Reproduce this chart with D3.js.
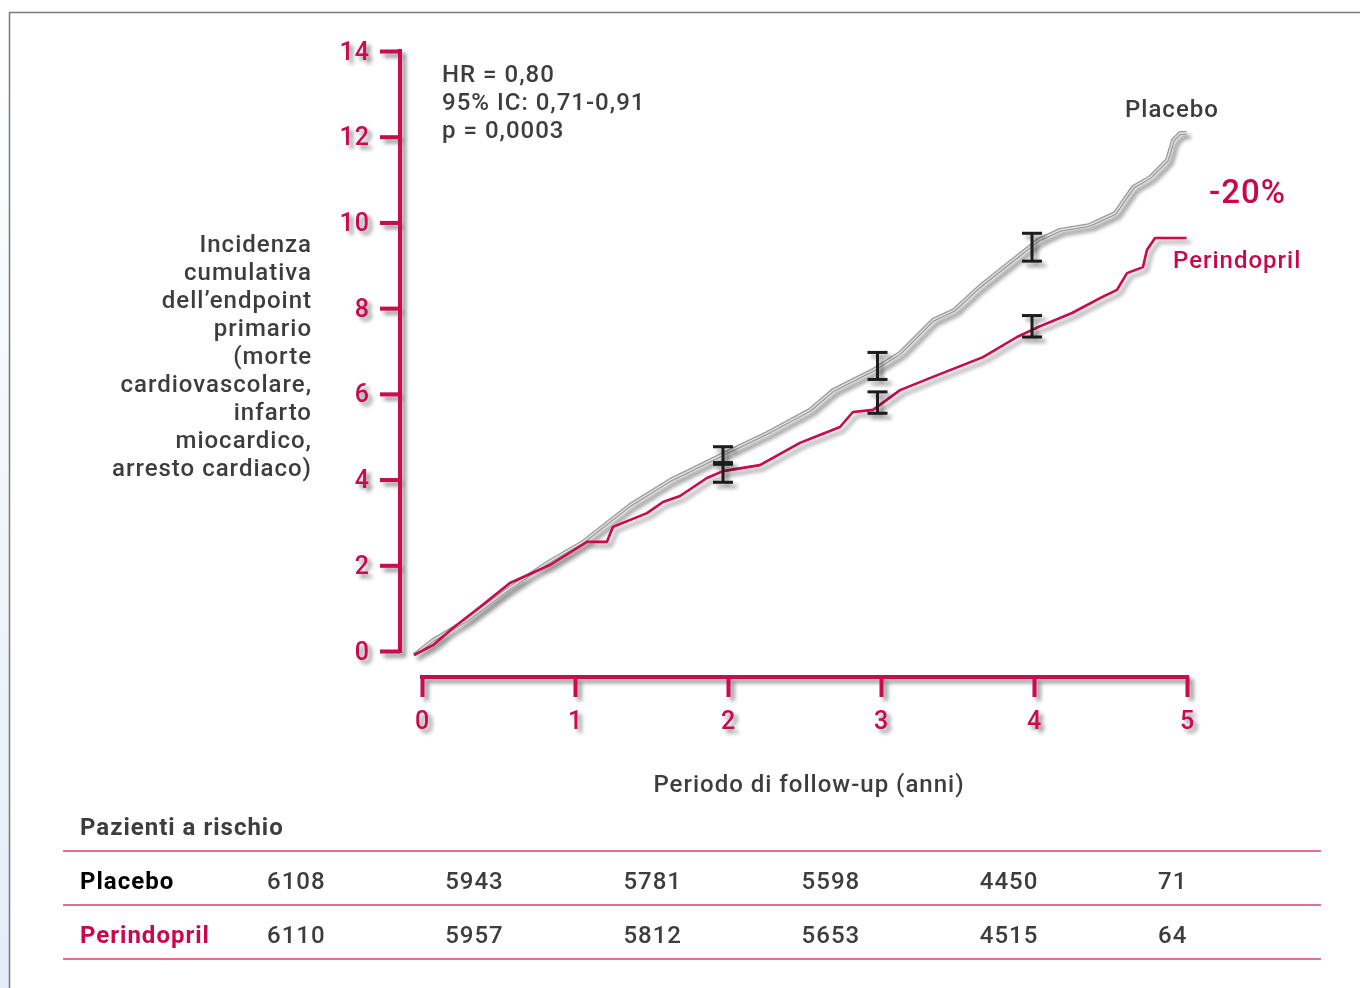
<!DOCTYPE html>
<html><head><meta charset="utf-8">
<script src="https://cdn.jsdelivr.net/npm/d3@7"></script>
<style>
html,body{margin:0;padding:0;background:#fff;}
svg{display:block;font-family:Roboto,"Open Sans",sans-serif;}
svg text{letter-spacing:1px;font-weight:500;}
</style></head>
<body>
<svg id="chart" width="1360" height="988"></svg>
<script>
// ---- data ----
const years = [0, 1, 2, 3, 4, 5];
const yTicks = [0, 2, 4, 6, 8, 10, 12, 14];

const placeboT = [0, 0.123, 0.343, 0.602, 0.861, 1.094, 1.398, 1.657, 1.832, 2.013, 2.285, 2.563, 2.712, 2.971, 3.146, 3.359, 3.495, 3.657, 3.877, 4.039, 4.181, 4.369, 4.537, 4.654, 4.764, 4.874, 4.913, 4.958, 5.0];
const placeboV = [0, 0.35, 0.82, 1.52, 2.15, 2.64, 3.50, 4.08, 4.39, 4.71, 5.18, 5.72, 6.18, 6.65, 7.05, 7.82, 8.05, 8.59, 9.22, 9.68, 9.92, 10.03, 10.31, 10.92, 11.15, 11.55, 12.02, 12.18, 12.18];

const periT = [0, 0.123, 0.252, 0.427, 0.621, 0.880, 1.120, 1.249, 1.288, 1.508, 1.612, 1.722, 1.896, 2.0, 2.239, 2.498, 2.757, 2.841, 2.971, 3.146, 3.359, 3.683, 3.903, 4.039, 4.259, 4.453, 4.550, 4.615, 4.718, 4.744, 4.796, 5.0];
const periV = [0, 0.23, 0.63, 1.12, 1.68, 2.10, 2.64, 2.64, 2.99, 3.31, 3.57, 3.71, 4.13, 4.29, 4.43, 4.95, 5.32, 5.67, 5.72, 6.18, 6.49, 6.95, 7.42, 7.65, 7.98, 8.35, 8.52, 8.91, 9.05, 9.45, 9.73, 9.73];

const ciYears = [2, 3, 4];
const placeboLo = [4.45, 6.43, 9.19];
const placeboHi = [4.86, 7.06, 9.84];
const periLo = [4.03, 5.64, 7.42];
const periHi = [4.49, 6.14, 7.92];

const riskLabels = ["Placebo", "Perindopril"];
const riskPlacebo = [6108, 5943, 5781, 5598, 4450, 71];
const riskPeri = [6110, 5957, 5812, 5653, 4515, 64];

const statsLines = ["HR = 0,80", "95% IC: 0,71-0,91", "p = 0,0003"];
const yTitleLines = ["Incidenza", "cumulativa", "dell\u2019endpoint", "primario", "(morte", "cardiovascolare,", "infarto", "miocardico,", "arresto cardiaco)"];

// ---- colours ----
const RED = "#c8074d";
const GREY_TXT = "#3d3d3d";

const svg = d3.select("#chart");
const defs = svg.append("defs");
const grad = defs.append("linearGradient").attr("id", "strip").attr("x1", 0).attr("y1", 0).attr("x2", 0).attr("y2", 1);
grad.append("stop").attr("offset", "0").attr("stop-color", "#ffffff");
grad.append("stop").attr("offset", "1").attr("stop-color", "#e4edf8");
const f = defs.append("filter").attr("id", "shadow").attr("x", "-20%").attr("y", "-20%").attr("width", "140%").attr("height", "140%");
f.append("feGaussianBlur").attr("in", "SourceAlpha").attr("stdDeviation", 2).attr("result", "b");
f.append("feOffset").attr("in", "b").attr("dx", 4).attr("dy", 4).attr("result", "o");
f.append("feComponentTransfer").attr("in", "o").attr("result", "o2")
  .append("feFuncA").attr("type", "linear").attr("slope", 0.45);
const fm = f.append("feMerge");
fm.append("feMergeNode").attr("in", "o2");
fm.append("feMergeNode").attr("in", "SourceGraphic");

// frame
svg.append("rect").attr("x", 0).attr("y", 12).attr("width", 9).attr("height", 976).attr("fill", "url(#strip)");
svg.append("path").attr("d", "M1360,12.5H9.5V988").attr("fill", "none").attr("stroke", "#7a7a7a").attr("stroke-width", 1.5);

// scales
const y = d3.scaleLinear().domain([0, 14]).range([651, 51]);
const x = d3.scaleLinear().domain([0, 5]).range([422, 1187]);
const xc = d3.scaleLinear().domain([0, 5]).range([414, 1186.5]);
const yc = d3.scaleLinear().domain([0, 14]).range([655, 55]);

// y axis
const gy = svg.append("g").attr("transform", "translate(400,0)").attr("filter", "url(#shadow)")
  .call(d3.axisLeft(y).tickValues(yTicks).tickSize(20).tickSizeOuter(0).tickPadding(10));
gy.select(".domain").attr("stroke", RED).attr("stroke-width", 4).attr("d", `M0,${y(14) - 2}V${y(0) + 2}`);
gy.selectAll(".tick line").attr("stroke", RED).attr("stroke-width", 4);
gy.selectAll(".tick text").attr("fill", RED).attr("font-size", 25).attr("font-family", "Roboto");

// x axis
const gx = svg.append("g").attr("transform", "translate(0,677)").attr("filter", "url(#shadow)")
  .call(d3.axisBottom(x).tickValues(years).tickFormat(d3.format("d")).tickSize(20).tickSizeOuter(0).tickPadding(14));
gx.select(".domain").attr("stroke", RED).attr("stroke-width", 4).attr("d", `M${x(0) - 2},0H${x(5) + 2}`);
gx.selectAll(".tick line").attr("stroke", RED).attr("stroke-width", 4);
gx.selectAll(".tick text").attr("fill", RED).attr("font-size", 25).attr("font-family", "Roboto");

// curves
const plac = placeboT.map((t, i) => [t, placeboV[i]]);
const peri = periT.map((t, i) => [t, periV[i]]);
const lineLin = d3.line().x(d => xc(d[0])).y(d => yc(d[1]));

const gc = svg.append("g").attr("filter", "url(#shadow)");
gc.append("path").datum(plac).attr("d", lineLin).attr("fill", "none").attr("stroke", "#9c9c9c").attr("stroke-width", 4).attr("stroke-linejoin", "round");
gc.append("path").datum(plac).attr("d", lineLin).attr("fill", "none").attr("stroke", "#e6e6e6").attr("stroke-width", 1.3).attr("stroke-linejoin", "round");
gc.append("path").datum(peri).attr("d", lineLin).attr("fill", "none").attr("stroke", RED).attr("stroke-width", 2.6).attr("stroke-linejoin", "round");

// error bars
const ge = svg.append("g").attr("filter", "url(#shadow)");
function errBar(t, lo, hi) {
  const cx = xc(t);
  const g = ge.append("g").attr("stroke", "#1a1a1a").attr("stroke-width", 3).attr("fill", "none");
  g.append("line").attr("x1", cx).attr("x2", cx).attr("y1", yc(lo)).attr("y2", yc(hi));
  g.append("line").attr("x1", cx - 10).attr("x2", cx + 10).attr("y1", yc(lo)).attr("y2", yc(lo));
  g.append("line").attr("x1", cx - 10).attr("x2", cx + 10).attr("y1", yc(hi)).attr("y2", yc(hi));
}
ciYears.forEach((t, i) => { errBar(t, placeboLo[i], placeboHi[i]); errBar(t, periLo[i], periHi[i]); });

// text: stats
svg.append("g").selectAll("text").data(statsLines).join("text")
  .attr("x", 442).attr("y", (d, i) => 82 + i * 28)
  .attr("font-size", 24).attr("fill", GREY_TXT).text(d => d);

// series labels
svg.append("text").attr("x", 1125).attr("y", 117).attr("font-size", 24).attr("fill", GREY_TXT).text("Placebo");
svg.append("text").attr("x", 1209).attr("y", 203).attr("font-size", 33).attr("fill", RED).text("-20%");
svg.append("text").attr("x", 1173).attr("y", 268).attr("font-size", 24).attr("fill", RED).text("Perindopril");

// y title
svg.append("g").selectAll("text").data(yTitleLines).join("text")
  .attr("x", 312).attr("y", (d, i) => 252 + i * 28).attr("text-anchor", "end")
  .attr("font-size", 24).attr("fill", GREY_TXT).text(d => d);

// x title
svg.append("text").attr("x", 809).attr("y", 792).attr("text-anchor", "middle")
  .attr("font-size", 24).attr("fill", GREY_TXT).text("Periodo di follow-up (anni)");

// risk table
svg.append("text").attr("x", 80).attr("y", 835).attr("font-size", 24).attr("font-weight", "bold")
  .style("font-weight", "bold").attr("fill", GREY_TXT).text("Pazienti a rischio");
const tableLinesY = [851, 905, 959];
svg.append("g").selectAll("line").data(tableLinesY).join("line")
  .attr("x1", 63).attr("x2", 1321).attr("y1", d => d).attr("y2", d => d)
  .attr("stroke", "#d4426f").attr("stroke-width", 1.5);
const colX = d3.scalePoint().domain(years).range([267, 1158]);
const rows = [riskPlacebo, riskPeri];
const rowY = [889, 943];
rows.forEach((vals, r) => {
  svg.append("text").attr("x", 80).attr("y", rowY[r]).attr("font-size", 24)
    .style("font-weight", "bold").attr("fill", r === 0 ? "#000" : RED).text(riskLabels[r]);
  svg.append("g").selectAll("text").data(vals).join("text")
    .attr("x", (d, i) => colX(years[i])).attr("y", rowY[r])
    .attr("font-size", 24).attr("fill", GREY_TXT).text(d => d);
});
</script>
</body></html>
